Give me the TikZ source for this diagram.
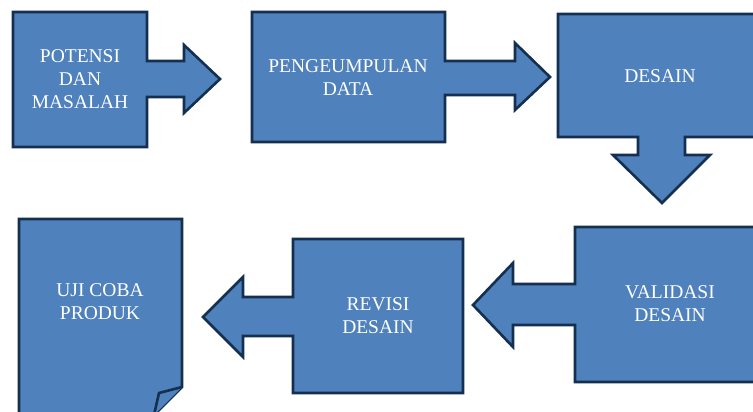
\documentclass[tikz,border=0pt]{standalone}
\usepackage{fontspec}
\setmainfont{Liberation Serif}
\usepackage{tikz}
\definecolor{boxfill}{HTML}{4F81BD}
\definecolor{boxline}{HTML}{142F4F}

\begin{document}
\begin{tikzpicture}[x=1pt,y=-1pt]
\tikzset{langkah/.style={fill=boxfill,draw=boxline,line width=2.6pt,line join=miter}}
\tikzset{judul/.style={text=white,align=center,font=\fontsize{19.5}{23}\selectfont}}

\useasboundingbox (0,0) rectangle (753,412);
\clip (0,0) rectangle (753,412);

% potensi dan masalah, panah ke kanan
\draw[langkah] (13,12) -- (147,12) -- (147,61) -- (184,61) -- (184,45) -- (220,79)
  -- (184,113) -- (184,97) -- (147,97) -- (147,147) -- (13,147) -- cycle;
\node[judul] (potensi) at (80,79) {POTENSI\\DAN\\MASALAH};

% pengumpulan data
\draw[langkah] (252,12) -- (445,12) -- (445,61) -- (515,61) -- (515,43) -- (550,77)
  -- (515,110) -- (515,95) -- (445,95) -- (445,142) -- (252,142) -- cycle;
\node[judul] (pengumpulan) at (348,78) {PENGEUMPULAN\\DATA};

% desain, panah ke bawah
\draw[langkah] (558,14) -- (765,14) -- (765,137) -- (685,137) -- (685,155) -- (710,155)
  -- (662,203) -- (613,155) -- (638,155) -- (638,137) -- (558,137) -- cycle;
\node[judul] (desain) at (660,76) {DESAIN};

% validasi desain, panah ke kiri
\draw[langkah] (765,227) -- (575,227) -- (575,284) -- (513,284) -- (513,263) -- (473,305)
  -- (513,347) -- (513,325) -- (575,325) -- (575,382) -- (765,382) -- cycle;
\node[judul] (validasi) at (670,304) {VALIDASI\\DESAIN};

% revisi desain
\draw[langkah] (463,239) -- (293,239) -- (293,297) -- (243,297) -- (243,277) -- (203,317)
  -- (243,357) -- (243,336) -- (293,336) -- (293,393) -- (463,393) -- cycle;
\node[judul] (revisi) at (378,316) {REVISI\\DESAIN};

% uji coba produk, sudut terlipat
\draw[langkah] (19,219) -- (182,219) -- (182,387) -- (154,415) -- (19,415) -- cycle;
\draw[langkah] (182,387) -- (159,393) -- (154,415);
\node[judul] (uji) at (100,302) {UJI COBA\\PRODUK};

\end{tikzpicture}
\end{document}
